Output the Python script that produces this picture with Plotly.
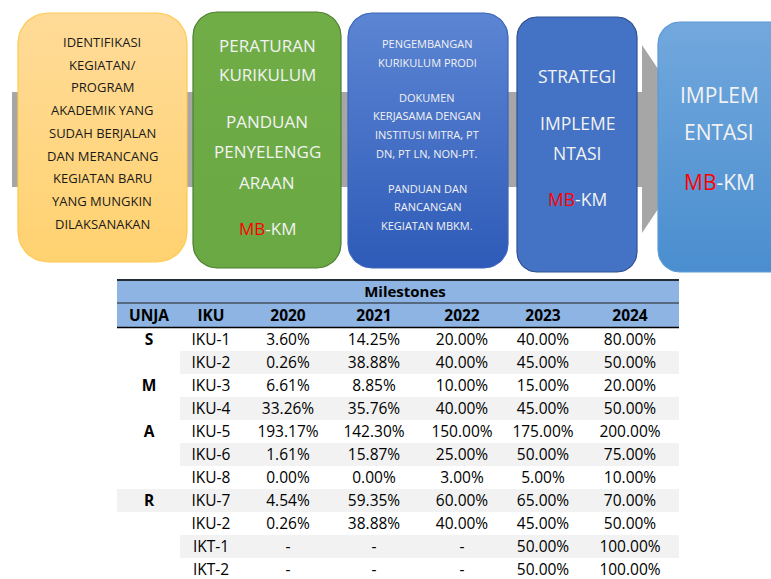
import numpy as np
import plotly.graph_objects as go

W, H = 771, 579

# ---------------- data ----------------
unja = ["S", "", "M", "", "A", "", "", "R", "", "", ""]
iku = ["IKU-1", "IKU-2", "IKU-3", "IKU-4", "IKU-5", "IKU-6", "IKU-8", "IKU-7", "IKU-2", "IKT-1", "IKT-2"]
years = ["2020", "2021", "2022", "2023", "2024"]
v2020 = [3.60, 0.26, 6.61, 33.26, 193.17, 1.61, 0.00, 4.54, 0.26, None, None]
v2021 = [14.25, 38.88, 8.85, 35.76, 142.30, 15.87, 0.00, 59.35, 38.88, None, None]
v2022 = [20.00, 40.00, 10.00, 40.00, 150.00, 25.00, 3.00, 60.00, 40.00, None, None]
v2023 = [40.00, 45.00, 15.00, 45.00, 175.00, 50.00, 5.00, 65.00, 45.00, 50.00, 50.00]
v2024 = [80.00, 50.00, 20.00, 50.00, 200.00, 75.00, 10.00, 70.00, 50.00, 100.00, 100.00]
header_labels = ["UNJA", "IKU"] + years
table_title = "Milestones"

box1_lines = ["IDENTIFIKASI", "KEGIATAN/", "PROGRAM", "AKADEMIK YANG", "SUDAH BERJALAN",
              "DAN MERANCANG", "KEGIATAN BARU", "YANG MUNGKIN", "DILAKSANAKAN"]
box2_lines = ["PERATURAN", "KURIKULUM", "PANDUAN", "PENYELENGG", "ARAAN", "MB-KM"]
box3_lines = ["PENGEMBANGAN", "KURIKULUM PRODI", "DOKUMEN", "KERJASAMA DENGAN",
              "INSTITUSI MITRA, PT", "DN, PT LN, NON-PT.", "PANDUAN DAN", "RANCANGAN", "KEGIATAN MBKM."]
box4_lines = ["STRATEGI", "IMPLEME", "NTASI", "MB-KM"]
box5_lines = ["IMPLEM", "ENTASI", "MB-KM"]

FONT = "Open Sans"

fig = go.Figure()


def rrect(x0, y0, x1, y1, r, n=12):
    xs, ys = [], []
    for cx, cy, a0, a1 in [(x1 - r, y0 + r, -90, 0), (x1 - r, y1 - r, 0, 90),
                           (x0 + r, y1 - r, 90, 180), (x0 + r, y0 + r, 180, 270)]:
        a = np.radians(np.linspace(a0, a1, n))
        xs += list(cx + r * np.cos(a))
        ys += list(cy + r * np.sin(a))
    xs.append(xs[0]); ys.append(ys[0])
    return xs, ys


# grey arrow behind boxes
ax = [12, 642, 642, 705, 642, 642, 12, 12]
ay = [92, 92, 45, 139, 233, 187, 187, 92]
fig.add_trace(go.Scatter(x=ax, y=ay, fill="toself", mode="lines", line=dict(width=0),
                         fillcolor="#A6A6A6", hoverinfo="skip", showlegend=False))

boxes = [
    # x0, y0, x1, y1, r, top, bottom, border
    (18, 13, 187, 262, 30, "#FFDB98", "#FFD270", "#FFC94F"),
    (193, 12, 341, 268, 24, "#70AD47", "#6AA843", "#4F7F31"),
    (348, 13, 508, 268, 24, "#5C85D3", "#2E5BB8", "#3A64BD"),
    (517, 17, 637, 272, 20, "#4472C4", "#4472C4", "#2F528F"),
    (658, 22, 800, 272, 22, "#72A8DD", "#4A8ECF", "#5B9BD5"),
]
for x0, y0, x1, y1, r, c1, c2, bc in boxes:
    xs, ys = rrect(x0, y0, x1, y1, r)
    fig.add_trace(go.Scatter(x=xs, y=ys, fill="toself", mode="lines",
                             line=dict(color=bc, width=1.2),
                             fillgradient=dict(type="vertical", colorscale=[[0, c2], [1, c1]]),
                             hoverinfo="skip", showlegend=False))

annotations = []


def add_lines(lines, cx, ys, size, color):
    for t, y in zip(lines, ys):
        if t == "MB-KM":
            t = "<span style='color:#FF0000'>MB</span>-KM"
        annotations.append(dict(x=cx, y=y, xref="x", yref="y", text=t, showarrow=False,
                                font=dict(family=FONT, size=size, color=color),
                                xanchor="center", yanchor="middle"))


add_lines(box1_lines, 102, [42, 65, 87, 110, 133, 156, 178, 201, 224], 13, "#1A1A1A")
add_lines(box2_lines, 267, [45, 74, 121, 151, 182, 228], 17, "#F2F2F2")
add_lines(box3_lines, 427, [43, 62, 97, 115, 134, 153, 188, 206, 225], 11, "#F2F2F2")
add_lines(box4_lines, 577, [76, 123, 153, 199], 17.5, "#F2F2F2")
add_lines(box5_lines, 719, [95, 132, 182], 21, "#F2F2F2")

# ---------------- table ----------------
X0, X1 = 117, 679
T_TOP, T_MID, T_HEAD = 279, 303, 328
ROW_H = 23
TXT_DY = 2
col_x = [149, 211, 288, 374, 462, 543, 630]
STRIPE_X0 = 180
n = len(iku)
row_y = [T_HEAD + ROW_H * (i + 0.5) + TXT_DY for i in range(n)]

shapes = []
# header band
shapes.append(dict(type="rect", xref="x", yref="y", x0=X0, x1=X1, y0=T_TOP, y1=T_HEAD,
                   fillcolor="#8DB4E2", line=dict(width=0), layer="below"))
# row stripes
for i in range(n):
    if i % 2 == 1:
        x_start = X0 if unja[i] == "R" else STRIPE_X0
        shapes.append(dict(type="rect", xref="x", yref="y", x0=x_start, x1=X1,
                           y0=T_HEAD + ROW_H * i, y1=T_HEAD + ROW_H * (i + 1),
                           fillcolor="#F2F2F2", line=dict(width=0), layer="below"))
for yy, w, c in [(280, 1.5, "#000000"), (303, 1.2, "#1F1F1F"), (327.5, 1.5, "#000000")]:
    shapes.append(dict(type="line", xref="x", yref="y", x0=X0, x1=X1, y0=yy, y1=yy,
                       line=dict(color=c, width=w), layer="above"))


def fmt(vals):
    return ["-" if v is None else f"{v:.2f}%" for v in vals]


columns = [unja, iku, fmt(v2020), fmt(v2021), fmt(v2022), fmt(v2023), fmt(v2024)]
for j, (cx, vals) in enumerate(zip(col_x, columns)):
    fig.add_trace(go.Scatter(
        x=[cx] * n, y=row_y, mode="text", text=vals, textposition="middle center",
        textfont=dict(family=FONT, size=15.5, color="#000000",
                      weight="bold" if j == 0 else "normal"),
        hoverinfo="skip", showlegend=False, cliponaxis=False))

# header labels
fig.add_trace(go.Scatter(
    x=col_x, y=[(T_MID + T_HEAD) / 2 + 2] * len(col_x), mode="text", text=header_labels,
    textposition="middle center", textfont=dict(family=FONT, size=15.5, color="#000", weight="bold"),
    hoverinfo="skip", showlegend=False))
fig.add_trace(go.Scatter(
    x=[405], y=[(T_TOP + T_MID) / 2 + 2], mode="text", text=[table_title],
    textposition="middle center", textfont=dict(family=FONT, size=15, color="#000", weight="bold"),
    hoverinfo="skip", showlegend=False))

fig.update_layout(
    width=W, height=H, margin=dict(l=0, r=0, t=0, b=0),
    paper_bgcolor="white", plot_bgcolor="white",
    xaxis=dict(range=[0, W], visible=False, fixedrange=True),
    yaxis=dict(range=[H, 0], visible=False, fixedrange=True),
    annotations=annotations, shapes=shapes, showlegend=False,
)

fig.write_html("out.html", config={"displayModeBar": False},
               post_script="document.body.style.margin='0';")
